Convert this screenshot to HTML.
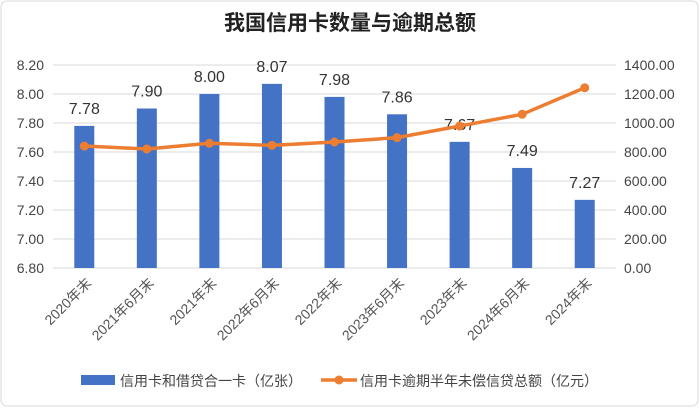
<!DOCTYPE html>
<html><head><meta charset="utf-8"><style>
html,body{margin:0;padding:0;background:#fff;}
#wrap{position:relative;width:700px;height:408px;overflow:hidden;}
svg text{font-family:"Liberation Sans","Noto Sans CJK SC",sans-serif;}
</style></head><body>
<div id="wrap">
<svg id="chart" width="700" height="408">
<rect x="1" y="1" width="697" height="405" rx="6" fill="#fff" stroke="#d9d9d9"/>
<text x="350" y="30" text-anchor="middle" font-size="21" font-weight="bold" fill="#222">我国信用卡数量与逾期总额</text>
</svg>
</div>
<script>
const categories=["2020年末","2021年6月末","2021年末","2022年6月末","2022年末","2023年6月末","2023年末","2024年6月末","2024年末"];
const cardCounts=[7.78,7.90,8.00,8.07,7.98,7.86,7.67,7.49,7.27];
const overdueAmounts=[841,821,860,846,869,899,979,1060,1243];
const leftTicks=[6.80,7.00,7.20,7.40,7.60,7.80,8.00,8.20];
const rightTicks=[0,200,400,600,800,1000,1200,1400];

const NS="http://www.w3.org/2000/svg";
const svg=document.getElementById('chart');
const L=53,R=616,T=65,B=268;
const band=(R-L)/categories.length;
const xc=i=>L+band*(i+0.5);
const yL=v=>B-(v-6.8)/(8.2-6.8)*(B-T);
const yR=v=>B-v/1400*(B-T);
function mk(tag,attrs,txt){const e=document.createElementNS(NS,tag);for(const k in attrs)e.setAttribute(k,attrs[k]);if(txt!==undefined)e.textContent=txt;svg.appendChild(e);return e;}

leftTicks.forEach(t=>{
  const g=mk('line',{x1:L,x2:R,y1:yL(t),y2:yL(t),stroke:'#d9d9d9','stroke-width':1});
  
  
  const lt=mk('text',{x:44,y:yL(t)+5,'text-anchor':'end','font-size':14,fill:'#444'},t.toFixed(2));
  
  
});
rightTicks.forEach(t=>{
  const rt=mk('text',{x:624,y:yR(t)+5,'font-size':14,fill:'#444'},t.toFixed(2));
  
  
});
cardCounts.forEach((v,i)=>{
  const b=mk('rect',{x:xc(i)-10,y:yL(v),width:20,height:B-yL(v),fill:'#4472c4'});
  
  
  const l=mk('text',{x:xc(i),y:yL(v)-12,'text-anchor':'middle','font-size':16,fill:'#333'},v.toFixed(2));
  
  
});
const pts=overdueAmounts.map((v,i)=>xc(i)+','+yR(v)).join(' ');
const pl=mk('polyline',{points:pts,fill:'none',stroke:'#ed7d31','stroke-width':3.5,'stroke-linejoin':'round'});


overdueAmounts.forEach((v,i)=>{
  const c=mk('circle',{cx:xc(i),cy:yR(v),r:4.5,fill:'#ed7d31'});
  
  
});
categories.forEach((c,i)=>{
  const x=xc(i)+8,y=284;
  const t=mk('text',{x:x,y:y,'text-anchor':'end','font-size':14,fill:'#555',transform:`rotate(-45 ${x} ${y})`},c);
  
  
});
const lr=mk('rect',{x:81,y:375,width:34,height:10,fill:'#4472c4'});


const l1=mk('text',{x:120,y:386,'font-size':14,fill:'#444'},'信用卡和借贷合一卡（亿张）');


const ll=mk('line',{x1:321,x2:357,y1:380,y2:380,stroke:'#ed7d31','stroke-width':3.5});


const lc=mk('circle',{cx:339,cy:380,r:4.5,fill:'#ed7d31'});


const l2=mk('text',{x:360,y:386,'font-size':14,fill:'#444'},'信用卡逾期半年未偿信贷总额（亿元）');


</script>
</body></html>
